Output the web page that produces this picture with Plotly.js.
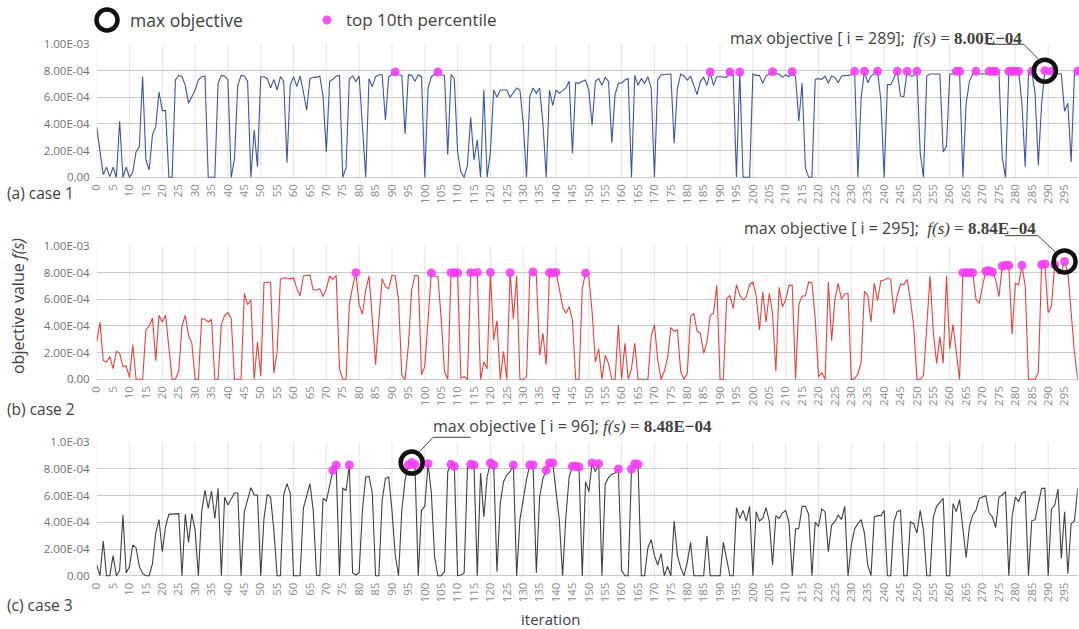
<!DOCTYPE html>
<html><head><meta charset="utf-8">
<script src="https://cdn.plot.ly/plotly-3.0.1.min.js"></script>
<style>html,body{margin:0;padding:0;background:#fff}#chart{width:1079px;height:629px}</style>
</head><body><div id="chart"></div>
<script>
// values in units of 1e-4
const UNIT = 1e-4;
const case1 = [
3.75,1.8,0.2,0.75,0.05,0.75,0,4.2,0,0.75,
0,0.4,1.9,2.3,7.55,1.3,0.55,3.2,3.8,6.4,
5.0,5.0,0,0,7.3,7.65,7.55,6.9,5.55,6.05,
6.55,7.3,7.55,7.6,0,0,0,7.05,7.65,7.6,
7.3,0,1.4,6.9,7.65,7.6,7.2,0,3.55,0.8,
7.55,7.55,7.4,6.7,7.35,6.55,7.55,7.2,1.1,6.9,
7.55,6.8,7.6,6.4,5.05,7.4,7.5,7.5,7.6,6.05,
1.9,7.2,7.35,7.6,7.65,0,0.7,7.4,7.6,7.2,
7.6,3.8,0,7.4,6.8,7.55,7.7,7.7,4.3,7.55,
7.75,7.9,7.7,7.65,3.25,7.7,7.65,7.2,7.7,7.55,
0,6.7,7.55,7.75,7.9,7.7,7.65,1.7,7.7,7.4,
1.9,0.4,0,0.9,4.5,1.3,2.8,0,6.55,0,
1.9,6.55,6.0,6.55,6.55,6.55,6.0,6.4,6.7,6.55,
4.05,0,6.05,6.7,6.3,6.7,4.05,0,6.55,5.4,
6.55,6.3,6.5,6.7,7.2,1.8,7.1,7.05,7.2,7.3,
6.5,3.9,7.2,7.4,6.9,7.5,7.2,2.6,6.2,7.05,
7.1,7.3,7.4,0,7.65,6.9,7.4,7.05,7.55,6.7,
0,7.3,7.7,7.7,7.7,7.75,2.55,6.7,7.75,7.6,
7.3,7.6,6.9,6.2,7.2,7.5,6.9,7.9,6.9,7.55,
7.55,7.55,7.5,7.9,7.65,0,7.9,0,0,0,
7.75,7.65,7.65,7.05,7.6,7.75,7.92,7.75,7.75,7.5,
7.7,7.55,7.92,7.55,4.2,7.05,0.7,0,0,7.35,
7.4,7.35,7.6,7.05,7.6,7.5,7.1,7.6,7.6,7.65,
7.7,7.95,0,6.0,7.95,7.1,7.6,7.75,7.95,5.8,
0,6.95,6.95,7.45,7.95,6.1,6.05,7.95,7.6,7.6,
7.95,1.8,0,7.6,7.75,7.75,7.75,7.75,1.9,2.3,
7.75,7.75,7.95,7.95,0,5.55,7.2,7.75,7.95,7.75,
7.75,7.75,7.95,7.95,7.95,7.8,1.5,0,7.95,7.95,
7.95,7.95,5.55,0.8,7.75,7.95,6.3,0.9,5.55,8.0,
7.75,7.95,7.8,7.75,7.75,4.95,5.55,1.15,7.7,7.95];
const case2 = [
2.8,4.3,1.4,1.3,1.7,0.8,2.1,1.95,0.95,1.0,
0.15,2.6,0,0,0,3.7,4.0,4.6,1.4,4.8,
4.3,4.8,2.45,0,0,0.6,4.0,4.8,3.3,2.7,
0,0,4.55,4.5,4.3,4.5,0,0,4.1,4.8,
5.0,4.55,0,0,0,6.45,5.6,5.95,0,2.8,
0.25,7.25,7.3,7.3,0.45,2.1,7.5,7.6,7.6,7.55,
7.6,6.8,6.25,7.75,7.8,7.8,6.7,6.7,6.8,6.2,
6.8,7.75,7.5,7.8,0.8,0,0,5.6,6.95,8.0,
5.6,4.9,6.7,7.75,4.55,1.1,4.45,7.55,6.95,6.8,
7.8,7.75,5.95,0.3,0,2.55,6.7,7.8,7.75,0.35,
0.95,4.55,7.98,7.75,7.7,4.55,0.6,0,8.0,8.0,
8.0,0.1,0.2,0,8.0,7.8,8.02,0,1.3,0.8,
8.02,2.95,4.4,0,2.1,0,8.0,4.55,7.75,0,
0,0.2,7.8,8.05,7.8,1.8,3.45,1.1,8.0,8.0,
8.02,6.8,5.45,4.95,5.45,4.45,0,0,6.8,7.98,
7.7,5.05,1.3,2.3,0,1.8,1.2,0,0,4.1,
0,2.7,0,0.8,2.7,0,0,0,0,3.2,
4.1,1.45,0,0.6,1.6,3.9,3.6,3.7,0.6,0,
0.45,4.7,4.95,3.6,3.45,1.95,2.8,4.8,4.95,7.05,
0,0,6.05,6.3,5.3,7.1,6.3,5.95,6.2,7.1,
7.3,6.3,3.7,6.55,4.3,6.45,4.95,0.6,6.9,5.45,
5.95,7.05,7.05,0,5.6,6.25,6.25,7.3,7.25,4.55,
0.2,0.5,0,7.3,2.9,6.0,7.2,6.0,6.4,6.45,
0,0.05,0.4,1.3,6.6,6.3,4.3,7.2,5.9,7.4,
7.45,7.6,7.5,4.9,6.3,7.15,7.1,7.5,6.0,4.0,
0,0,0.3,4.0,7.75,3.5,1.2,3.2,1.2,7.75,
2.3,4.1,2.0,0,8.0,8.0,8.0,8.0,6.0,5.7,
7.0,8.1,8.15,8.05,7.5,6.2,8.5,8.55,8.55,3.4,
7.2,7.1,8.55,7.0,0,0,0,0.5,8.6,8.65,
5.0,5.5,8.6,7.9,8.0,8.84,8.0,5.0,2.0,0];
const case3 = [
0.8,0,2.6,0,0,1.5,0,0.4,4.55,0.2,
0.7,2.3,2.1,0.7,0.15,0,0,0.9,3.2,4.2,
1.8,3.7,4.6,4.6,4.6,4.65,0,4.6,2.5,4.65,
3.4,0,4.8,6.4,5.05,6.35,4.3,6.55,0,5.9,
5.3,5.8,6.2,6.2,0,4.8,5.7,6.6,6.05,6.05,
0,4.3,6.1,5.9,3.4,0,0,6.05,6.9,6.2,
0,0,0,5.05,6.05,6.9,4.9,0.05,0,5.8,
5.6,6.9,7.9,8.3,0,6.55,6.4,8.3,0.2,0.05,
0.25,4.9,7.4,7.45,6.2,0,0,5.6,7.3,7.4,
4.9,1.55,0,4.9,7.2,8.3,8.48,8.35,0,4.9,
5.2,8.4,6.2,1.4,0,0,0.3,7.8,8.35,8.2,
0,0.05,0.2,8.05,8.35,8.3,0,7.7,4.4,7.4,
8.45,8.3,0.3,5.4,7.05,7.55,7.8,8.3,0,4.2,
5.8,7.2,8.3,8.3,0.2,5.9,7.3,7.9,8.45,8.45,
6.2,4.2,0,4.4,7.4,8.2,8.2,8.15,0,7.05,
6.3,8.45,7.8,8.4,0,6.9,7.35,7.6,7.7,8.0,
0.4,0,0,8.0,8.4,8.35,0,0,2.1,2.7,
1.5,0.8,1.65,0,0.7,0,4.1,1.5,0.6,0,
1.0,2.5,0,0,0,0,3.0,0,0,0,
0,2.5,1.3,0,0,5.1,4.3,4.9,4.1,5.2,
0,4.8,4.1,4.3,5.1,4.1,0.8,4.5,4.3,4.7,
4.9,4.0,0,3.5,3.55,5.2,5.2,4.6,0,4.0,
3.7,5.0,4.8,1.8,3.8,4.05,4.55,4.2,5.2,0,
2.3,3.5,3.9,4.2,3.2,0.8,0,4.4,4.5,4.5,
4.9,0,0,4.05,4.8,4.9,0,0,4.05,3.9,
3.2,4.9,3.4,0,0,4.4,5.2,5.5,5.8,0,
0,5.4,4.8,5.7,3.4,1.35,3.7,4.55,4.9,5.8,
5.9,6.0,4.7,4.4,3.6,5.9,6.05,6.3,0,4.4,
5.9,5.55,6.2,6.3,0,4.1,4.2,5.3,6.55,6.55,
0,5.0,5.3,6.5,1.3,4.8,0.15,3.9,4.1,6.55];
// iterations in the top 10th percentile (magenta dots)
const top1 = [91,104,187,193,196,206,212,231,234,238,244,247,250,262,263,268,272,273,274,278,279,280,281,285,289,291,299];
const top2 = [79,102,108,109,110,114,116,120,126,133,138,139,140,149,264,265,266,267,271,272,273,276,277,278,282,288,289,292,295];
const top3 = [72,73,77,95,96,97,101,108,109,114,115,120,121,127,132,133,137,138,139,145,146,147,151,153,159,163,164,165];
const caseLabels = ['(a) case 1','(b) case 2','(c) case 3'];
const xTickVals = [0,5,10,15,20,25,30,35,40,45,50,55,60,65,70,75,80,85,90,95,100,105,110,115,120,125,130,135,140,145,150,155,160,165,170,175,180,185,190,195,200,205,210,215,220,225,230,235,240,245,250,255,260,265,270,275,280,285,290,295];
const xGridVals = [0,10,20,30,40,50,60,70,80,90,100,110,120,130,140,150,160,170,180,190,200,210,220,230,240,250,260,270,280,290];
const yTickVals = [0,0.0002,0.0004,0.0006,0.0008,0.001];
const yTickText12 = ['0.00','2.00E-04','4.00E-04','6.00E-04','8.00E-04','1.00E-03'];
const yTickText3 = ['0.00','2.00E-04','4.00E-04','6.00E-04','8.00E-04','1.0E-03'];

const series = [case1, case2, case3];
const tops = [top1, top2, top3];
const colors = ['#3b55a3', '#e8413c', '#404040'];
const tickTexts = [yTickText12, yTickText12, yTickText3];
const yDoms = [[0.7156, 0.9300], [0.3944, 0.6089], [0.0822, 0.2968]];
const xDom = [0.0896, 0.9988];
const yRange = [-0.000012, 0.001];
// annotation/leader layout per panel (pixel offsets from max point)
const annCfg = [
  {xanchor:'right', xshift:-21, yshift:33, gap:'\u00a0\u00a0', path:'M -58 26.4 L -21 26.4 L -4 9'},
  {xanchor:'right', xshift:-27, yshift:33, gap:'\u00a0\u00a0', path:'M -59.6 25.8 L -26.6 25.8 L -9.6 9.8'},
  {xanchor:'left', xshift:19, yshift:37, gap:'\u00a0', path:'M 59 25.3 L 21.4 25.3 L 8 10.9'}
];

const FONT = 'Open Sans, Noto Sans, sans-serif';
const SERIF = "'Liberation Serif','DejaVu Serif',serif";
const traces = [];
const layout = {
  width:1079, height:629, margin:{l:0,r:0,t:0,b:0},
  paper_bgcolor:'#fff', plot_bgcolor:'#fff', showlegend:false,
  font:{family:FONT, color:'#404040'},
  shapes:[], annotations:[]
};

series.forEach((vals, k) => {
  const s = k === 0 ? '' : String(k+1);
  const xs = vals.map((_, i) => i);
  const ys = vals.map(v => v*UNIT);
  traces.push({type:'scatter', mode:'lines', x:xs, y:ys, xaxis:'x'+s, yaxis:'y'+s,
    line:{color:colors[k], width:1.1}, hoverinfo:'skip'});
  traces.push({type:'scatter', mode:'markers', x:tops[k], y:tops[k].map(i => ys[i]), xaxis:'x'+s, yaxis:'y'+s,
    marker:{color:'rgba(245,60,245,0.88)', size:9}, cliponaxis:false, hoverinfo:'skip'});
  let m = 0; ys.forEach((v,i) => { if (v > ys[m]) m = i; });
  traces.push({type:'scatter', mode:'markers', x:[m], y:[ys[m]], xaxis:'x'+s, yaxis:'y'+s,
    marker:{symbol:'circle-open', size:22, color:'#111', line:{width:4.5, color:'#111'}}, cliponaxis:false, hoverinfo:'skip'});

  layout['xaxis'+s] = {domain:xDom, range:[0,299], anchor:'y'+s, tickmode:'array', tickvals:xTickVals,
    ticktext:xTickVals.map(String), tickangle:-90, showgrid:false, zeroline:false, showline:false,
    tickfont:{size:11.5, color:'#8a8a8a', family:FONT}, ticks:'', ticklabelstandoff:2};
  layout['yaxis'+s] = {domain:yDoms[k], range:yRange, anchor:'x'+s, tickmode:'array', tickvals:yTickVals,
    ticktext:tickTexts[k], showgrid:true, gridcolor:'#c9c9c9', gridwidth:1, zeroline:false, showline:false,
    tickfont:{size:11.5, color:'#707070', family:FONT}, ticks:'', ticklabelstandoff:6};

  xGridVals.forEach(g => layout.shapes.push({type:'line', xref:'x'+s, yref:'y'+s+' domain', x0:g, x1:g, y0:0, y1:1,
    line:{color:'#e4e4e4', width:1}, layer:'below'}));

  const pv = yDoms[k][0] + (ys[m]-yRange[0])/(yRange[1]-yRange[0])*(yDoms[k][1]-yDoms[k][0]);
  const c = annCfg[k];
  layout.shapes.push({type:'path', xref:'x'+s, yref:'paper', xsizemode:'pixel', ysizemode:'pixel',
    xanchor:m, yanchor:pv, path:c.path, line:{color:'#404040', width:1}});
  const valTxt = (vals[m]).toFixed(2) + 'E\u221204';
  layout.annotations.push({xref:'x'+s, yref:'y'+s, x:m, y:ys[m], xanchor:c.xanchor, yanchor:'middle',
    xshift:c.xshift, yshift:c.yshift, showarrow:false,
    text:'max objective [ i = ' + m + '];' + c.gap + '<span style="font-family:' + SERIF + ';font-size:17px"><i>f(s)</i> = <b>' + valTxt + '</b></span>',
    font:{size:16, color:'#404040', family:FONT}});
});

// panel labels
const labelY = [1-193/629, 1-409/629, 1-605/629];
caseLabels.forEach((t,k) => layout.annotations.push({xref:'paper', yref:'paper', x:5/1079, y:labelY[k],
  xanchor:'left', yanchor:'middle', text:t, showarrow:false, font:{size:15.5, color:'#404040'}}));
// axis titles
layout.annotations.push({xref:'paper', yref:'paper', x:18/1079, y:1-306/629, textangle:-90, xanchor:'center', yanchor:'middle',
  showarrow:false, text:'objective value <i>f(s)</i>', font:{size:16, color:'#404040'}});
layout.annotations.push({xref:'paper', yref:'paper', x:550/1079, y:1-619/629, xanchor:'center', yanchor:'middle',
  showarrow:false, text:'iteration', font:{size:15, color:'#404040'}});
// legend
layout.shapes.push({type:'circle', xref:'paper', yref:'paper', x0:96.5/1079, x1:117.5/1079, y0:1-30.5/629, y1:1-9.5/629,
  line:{color:'#111', width:4.5}});
layout.shapes.push({type:'circle', xref:'paper', yref:'paper', x0:322.5/1079, x1:331.5/1079, y0:1-24.5/629, y1:1-15.5/629,
  line:{width:0}, fillcolor:'rgba(245,60,245,0.88)'});
layout.annotations.push({xref:'paper', yref:'paper', x:128/1079, y:1-20/629, xanchor:'left', yanchor:'middle',
  showarrow:false, text:'max objective', font:{size:17.5, color:'#404040'}});
layout.annotations.push({xref:'paper', yref:'paper', x:344/1079, y:1-20/629, xanchor:'left', yanchor:'middle',
  showarrow:false, text:'top 10th percentile', font:{size:17, color:'#404040'}});

Plotly.newPlot('chart', traces, layout, {displayModeBar:false, responsive:false});
</script></body></html>
